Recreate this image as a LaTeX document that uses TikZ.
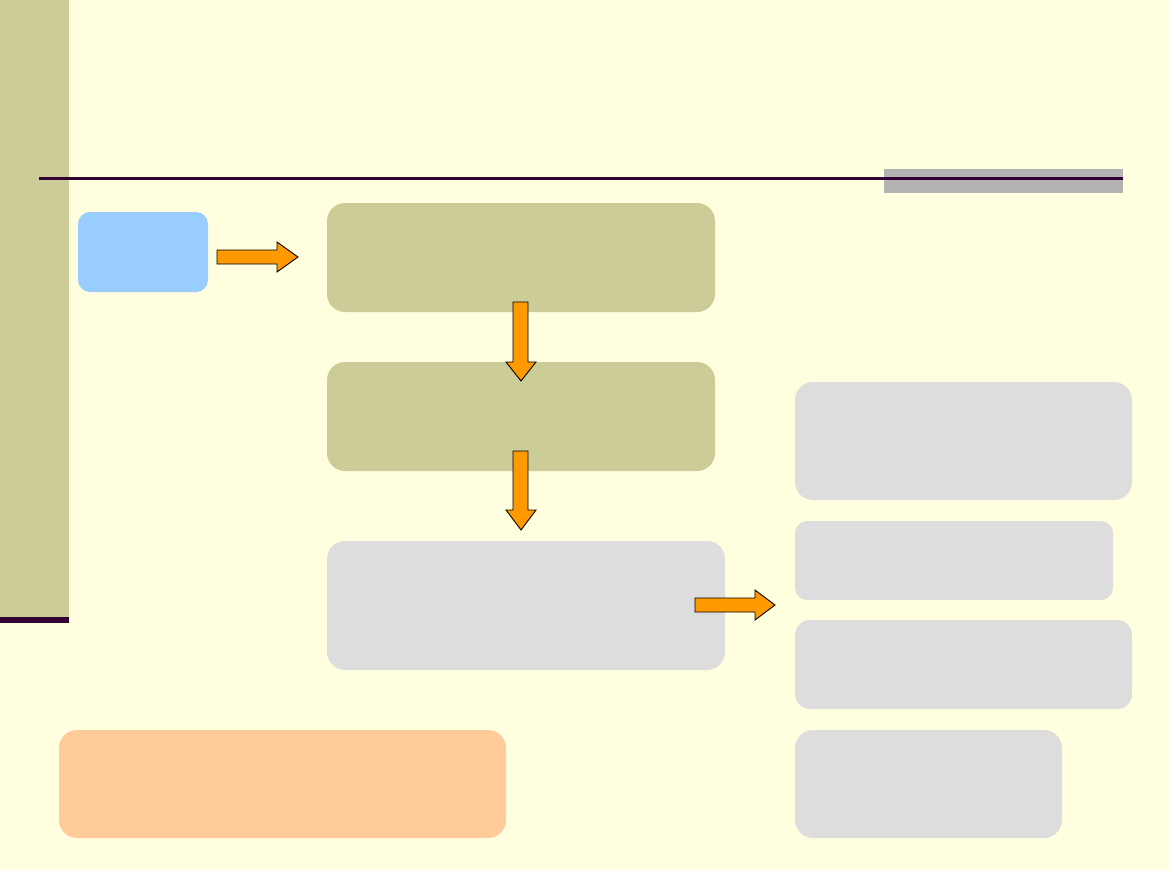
\documentclass[tikz,border=0pt]{standalone}
\definecolor{bg}{RGB}{255,255,224}
\definecolor{olive}{RGB}{204,204,153}
\definecolor{plum}{RGB}{51,0,51}
\definecolor{barg}{RGB}{178,178,178}
\definecolor{skyb}{RGB}{153,204,255}
\definecolor{lgray}{RGB}{221,221,221}
\definecolor{peach}{RGB}{255,204,153}
\definecolor{orng}{RGB}{255,153,0}
\begin{document}
\begin{tikzpicture}[x=1pt,y=-1pt,
  box/.style={rounded corners=14pt,inner sep=0pt,outer sep=0pt,draw=none},
  blockarrow/.style={fill=orng,draw=black,line width=0.9pt,line join=miter}]
\useasboundingbox (0,0) rectangle (1169,870);
\fill[bg] (0,0) rectangle (1169,870);
% left band
\fill[olive] (0,0) rectangle (69,617);
\fill[plum] (0,617) rectangle (69,623);
% header bar and rule
\fill[barg] (884,169) rectangle (1123,193);
\draw[plum,line width=3pt] (39,178) -- (1123,178);
% boxes
\node[box,fill=skyb,minimum width=130pt,minimum height=80pt,rounded corners=12pt] (blue) at (143,252) {};
\node[box,fill=olive,minimum width=388pt,minimum height=109pt,rounded corners=18pt] (a) at (521,257.5) {};
\node[box,fill=olive,minimum width=388pt,minimum height=109pt,rounded corners=18pt] (b) at (521,416.5) {};
\node[box,fill=lgray,minimum width=398pt,minimum height=129pt,rounded corners=18pt] (c) at (526,605.5) {};
\node[box,fill=lgray,minimum width=337pt,minimum height=118pt,rounded corners=18pt] (r1) at (963.5,441) {};
\node[box,fill=lgray,minimum width=318pt,minimum height=79pt,rounded corners=12pt] (r2) at (954,560.5) {};
\node[box,fill=lgray,minimum width=337pt,minimum height=89pt,rounded corners=15pt] (r3) at (963.5,664.5) {};
\node[box,fill=lgray,minimum width=267pt,minimum height=108pt,rounded corners=18pt] (r4) at (928.5,784) {};
\node[box,fill=peach,minimum width=447pt,minimum height=108pt,rounded corners=18pt] (p) at (282.5,784) {};
% block arrows
\draw[blockarrow] (217,250)--(277,250)--(277,242)--(298,257)--(277,272)--(277,264)--(217,264)--cycle;
\draw[blockarrow] (513,302)--(528,302)--(528,362)--(536,362)--(521,381)--(506,362)--(513,362)--cycle;
\draw[blockarrow] (513,451)--(528,451)--(528,510)--(536,510)--(521,530)--(506,510)--(513,510)--cycle;
\draw[blockarrow] (695,598)--(755,598)--(755,590)--(775,605)--(755,620)--(755,612)--(695,612)--cycle;
\end{tikzpicture}
\end{document}
